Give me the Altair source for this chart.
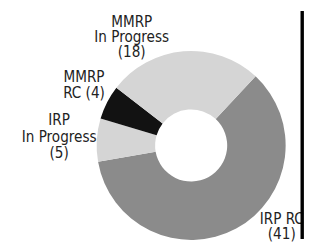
import math
import altair as alt
import pandas as pd

# ---- data ----
categories = ["IRP RC", "IRP In Progress", "MMRP RC", "MMRP In Progress"]
counts = [41, 5, 4, 18]
label_lines = [
    ["IRP RC", "(41)"],
    ["IRP", "In Progress", "(5)"],
    ["MMRP", "RC (4)"],
    ["MMRP", "In Progress", "(18)"],
]

# ---- style / layout ----
colors = ["#8b8b8b", "#d5d5d5", "#121212", "#d5d5d5"]
W, H = 310, 234
CX, CY = 188, 138          # donut centre (chart coords)
R_OUT, R_IN = 97, 37
START = math.radians(43)
# (x centre, first-line baseline, line height) in chart coords
label_anchor = {
    "IRP RC": (281, 219, 15),
    "IRP In Progress": (52.5, 117, 17),
    "MMRP RC": (78, 73, 16.5),
    "MMRP In Progress": (127, 16, 15.5),
}
FONT = "'DejaVu Sans Condensed', Roboto, sans-serif"

df = pd.DataFrame({"category": categories, "count": counts, "order": list(range(len(categories)))})

arc = alt.Chart(df).mark_arc(
    x=CX, y=CY, radius=R_OUT, radius2=R_IN
).encode(
    theta=alt.Theta("count:Q", stack=True,
                    scale=alt.Scale(range=[START, START + 2 * math.pi])),
    color=alt.Color("category:N", scale=alt.Scale(domain=categories, range=colors), legend=None),
    order=alt.Order("order:Q"),
)

layers = [arc]
for cat, lines in zip(categories, label_lines):
    x, y, lh = label_anchor[cat]
    ldf = pd.DataFrame({"txt": ["\n".join(lines)]})
    layers.append(
        alt.Chart(ldf).mark_text(
            font=FONT, fontSize=15.5, lineHeight=lh, align="center", baseline="alphabetic",
            color="#222222", lineBreak="\n"
        ).encode(text="txt:N", x=alt.value(x), y=alt.value(y))
    )

rule = alt.Chart(pd.DataFrame({"a": [0]})).mark_rule(color="#000000", strokeWidth=3.5).encode(
    x=alt.value(302), y=alt.value(0), y2=alt.value(H)
)
layers.append(rule)

chart = alt.layer(*layers).properties(
    width=W, height=H, padding=0, autosize=alt.AutoSizeParams(type="none")
).configure_view(stroke=None)

chart.save("out.html", embed_options={"renderer": "svg", "actions": False})
